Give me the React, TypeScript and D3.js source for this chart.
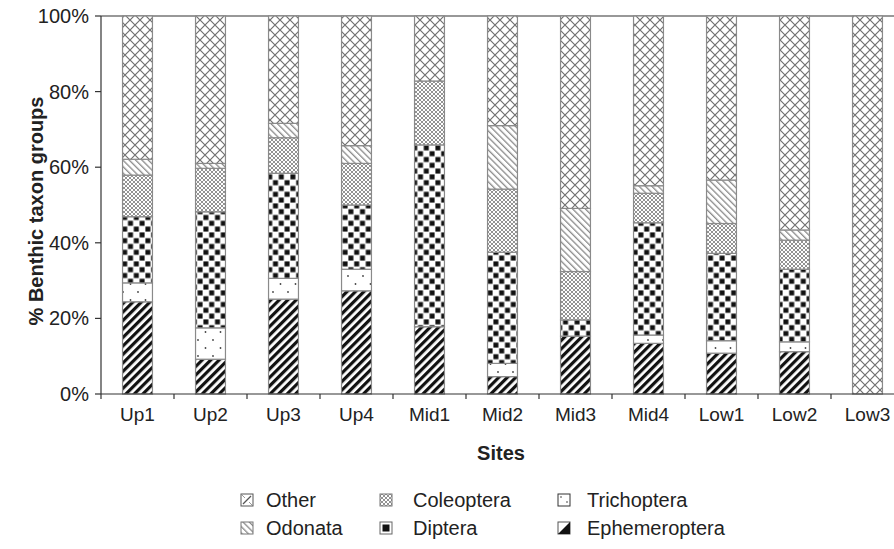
import React from 'react';
import * as d3 from 'd3';

const categories = ['Up1', 'Up2', 'Up3', 'Up4', 'Mid1', 'Mid2', 'Mid3', 'Mid4', 'Low1', 'Low2', 'Low3'];
const ephemeroptera = [24.4, 9.2, 25.1, 27.3, 17.8, 4.6, 15.3, 13.4, 10.8, 11.2, 0];
const trichoptera = [5.0, 8.3, 5.5, 5.7, 0, 3.5, 0, 2.2, 3.3, 2.6, 0];
const diptera = [17.5, 30.7, 27.8, 17.0, 48.1, 29.4, 4.3, 29.7, 23.1, 19.2, 0];
const coleoptera = [11.0, 11.5, 9.4, 11.0, 16.9, 16.7, 12.8, 7.8, 7.9, 7.7, 0];
const odonata = [4.2, 1.3, 3.8, 4.7, 0, 16.8, 16.7, 2.0, 11.5, 2.7, 0];
const other = [37.9, 39.0, 28.4, 34.3, 17.2, 29.0, 50.9, 44.9, 43.4, 56.6, 100];
const seriesKeys = ['Ephemeroptera', 'Trichoptera', 'Diptera', 'Coleoptera', 'Odonata', 'Other'];
const yTicks = [0, 20, 40, 60, 80, 100];
const legendRows = [
  ['Other', 'Coleoptera', 'Trichoptera'],
  ['Odonata', 'Diptera', 'Ephemeroptera'],
];

const W = 894;
const H = 549;
const FONT = '"Liberation Sans", Arial, Helvetica, sans-serif';
const patId: Record<string, string> = {
  Ephemeroptera: 'p-eph',
  Trichoptera: 'p-tri',
  Diptera: 'p-dip',
  Coleoptera: 'p-col',
  Odonata: 'p-odo',
  Other: 'p-oth',
};

function LegendIcon({ name, x, y }: { name: string; x: number; y: number }) {
  const s = 12;
  if (name === 'Diptera') {
    return (
      <g>
        <rect x={x} y={y} width={s} height={s} fill="#fff" stroke="#666" strokeWidth={1} />
        <rect x={x + 2.5} y={y + 2.5} width={s - 5} height={s - 5} fill="#111" />
      </g>
    );
  }
  if (name === 'Ephemeroptera') {
    return (
      <g>
        <rect x={x} y={y} width={s} height={s} fill="#fff" stroke="#555" strokeWidth={1} />
        <path d={`M${x + s},${y}L${x + s},${y + s}L${x},${y + s}Z`} fill="#111" />
      </g>
    );
  }
  if (name === 'Trichoptera') {
    return (
      <g>
        <rect x={x} y={y} width={s} height={s} fill="#fff" stroke="#333" strokeWidth={1} />
        <circle cx={x + 3} cy={y + 3} r={0.8} fill="#333" />
        <circle cx={x + 9} cy={y + 8} r={0.8} fill="#333" />
      </g>
    );
  }
  if (name === 'Other') {
    return (
      <g>
        <rect x={x} y={y} width={s} height={s} fill="#fff" stroke="#555" strokeWidth={1} />
        <path d={`M${x + 2},${y + s - 2}L${x + s - 2},${y + 2}`} stroke="#555" strokeWidth={1.2} />
        <path d={`M${x + 1},${y + 1}L${x + 4},${y + 4}M${x + s - 4},${y + s - 4}L${x + s - 1},${y + s - 1}`} stroke="#999" strokeWidth={1} />
      </g>
    );
  }
  return <rect x={x} y={y} width={s} height={s} fill={`url(#${patId[name]})`} stroke="#777" strokeWidth={1} />;
}

export default function App() {
  const rows = categories.map((c, i) => ({
    cat: c,
    Ephemeroptera: ephemeroptera[i],
    Trichoptera: trichoptera[i],
    Diptera: diptera[i],
    Coleoptera: coleoptera[i],
    Odonata: odonata[i],
    Other: other[i],
  }));
  const stacked = d3.stack<any>().keys(seriesKeys)(rows);

  const left = 101;
  const right = 904;
  const top = 16;
  const bottom = 394;
  const x = d3.scaleBand<string>().domain(categories).range([left, right]).paddingInner(0.59).paddingOuter(0.295);
  const xEdge = d3.scaleBand<string>().domain(categories).range([left, right]).padding(0);
  const y = d3.scaleLinear().domain([0, 100]).range([bottom, top]);
  const axisColor = '#333';
  const edge = '#8a8a8a';

  const legendX = [241, 380, 558];
  const legendTextX = [266, 413, 587];
  const legendY = [494, 522];

  return (
    <svg width={W} height={H} style={{ position: 'fixed', left: 0, top: 0, background: '#fff' }} fontFamily={FONT}>
      <defs>
        <pattern id="p-eph" width="6" height="6" patternUnits="userSpaceOnUse" patternTransform="rotate(45)">
          <rect width="6" height="6" fill="#fff" />
          <rect width="3.2" height="6" fill="#111" />
        </pattern>
        <pattern id="p-tri" width="15" height="16" patternUnits="userSpaceOnUse">
          <rect width="15" height="16" fill="#fff" />
          <circle cx="3" cy="4" r="0.9" fill="#444" />
          <circle cx="10.5" cy="12" r="0.9" fill="#444" />
        </pattern>
        <pattern id="p-dip" width="11.6" height="11.6" patternUnits="userSpaceOnUse">
          <rect width="11.6" height="11.6" fill="#fff" />
          <rect x="0.4" y="0.4" width="5" height="5" fill="#111" />
          <rect x="6.2" y="6.2" width="5" height="5" fill="#111" />
        </pattern>
        <pattern id="p-col" width="4" height="4" patternUnits="userSpaceOnUse">
          <rect width="4" height="4" fill="#fff" />
          <path d="M0,0L4,4M4,0L0,4" stroke="#777" strokeWidth="0.8" />
        </pattern>
        <pattern id="p-odo" width="4.5" height="4.5" patternUnits="userSpaceOnUse" patternTransform="rotate(-45)">
          <rect width="4.5" height="4.5" fill="#fff" />
          <rect width="1.3" height="4.5" fill="#8a8a8a" />
        </pattern>
        <pattern id="p-oth" width="10" height="10" patternUnits="userSpaceOnUse">
          <rect width="10" height="10" fill="#fff" />
          <path d="M0,0L10,10M10,0L0,10" stroke="#707070" strokeWidth="1.2" />
        </pattern>
      </defs>

      {/* top frame line */}
      <line x1={left} x2={W} y1={top} y2={top} stroke={axisColor} strokeWidth={1.2} />

      {/* bars */}
      {stacked.map((s) => (
        <g key={s.key}>
          {s.map((d, i) => {
            const h = y(d[0]) - y(d[1]);
            if (h <= 0.01) return null;
            return (
              <rect
                key={i}
                x={x(categories[i])}
                y={y(d[1])}
                width={x.bandwidth()}
                height={h}
                fill={`url(#${patId[s.key]})`}
                stroke={edge}
                strokeWidth={1.2}
              />
            );
          })}
        </g>
      ))}

      {/* y axis */}
      <line x1={left} x2={left} y1={top} y2={bottom} stroke={axisColor} strokeWidth={1.2} />
      {yTicks.map((t) => (
        <g key={t}>
          <line x1={left - 6} x2={left} y1={y(t)} y2={y(t)} stroke={axisColor} strokeWidth={1.2} />
          <text x={left - 12} y={y(t)} dy="0.35em" textAnchor="end" fontSize={20} fill="#222">
            {t}%
          </text>
        </g>
      ))}

      {/* x axis */}
      <line x1={left} x2={W} y1={bottom} y2={bottom} stroke={axisColor} strokeWidth={1.2} />
      {categories.map((c) => (
        <line key={'t' + c} x1={xEdge(c)} x2={xEdge(c)} y1={bottom} y2={bottom + 5} stroke={axisColor} strokeWidth={1.2} />
      ))}
      {categories.map((c) => (
        <text key={'l' + c} x={(x(c) as number) + x.bandwidth() / 2} y={421} textAnchor="middle" fontSize={19} fill="#222">
          {c}
        </text>
      ))}

      {/* axis titles */}
      <text x={501} y={460} textAnchor="middle" fontSize={20} fontWeight="bold" fill="#222">
        Sites
      </text>
      <text
        transform={`translate(43,211) rotate(-90)`}
        textAnchor="middle"
        fontSize={20}
        fontWeight="bold"
        fill="#222"
      >
        % Benthic taxon groups
      </text>

      {/* legend */}
      {legendRows.map((row, ri) =>
        row.map((name, ci) => (
          <g key={name}>
            <LegendIcon name={name} x={legendX[ci]} y={legendY[ri]} />
            <text x={legendTextX[ci]} y={legendY[ri] + 13} fontSize={20} fill="#222">
              {name}
            </text>
          </g>
        ))
      )}
    </svg>
  );
}
